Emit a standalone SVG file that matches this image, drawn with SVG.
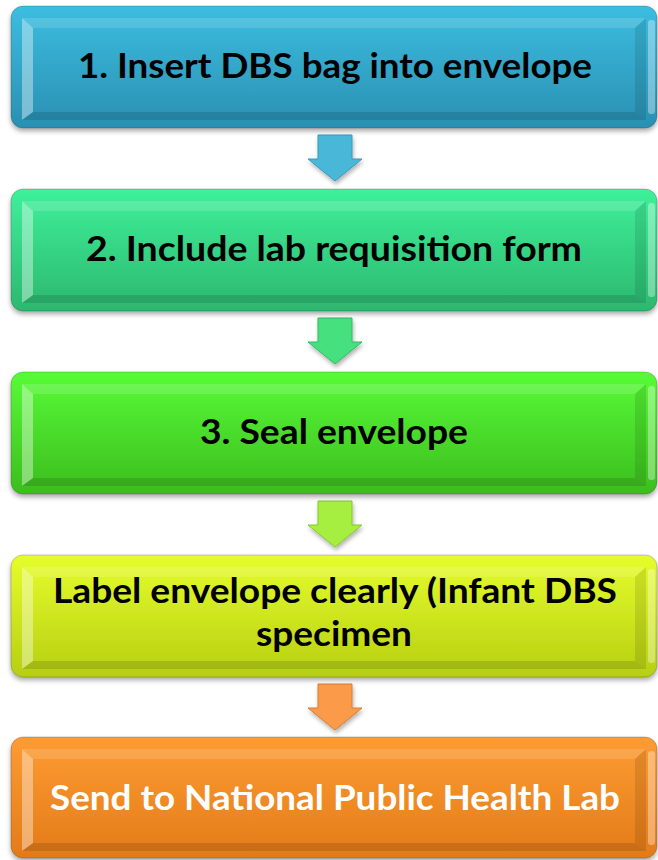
<svg xmlns="http://www.w3.org/2000/svg" width="658" height="860" viewBox="0 0 658 860">
  <style>
    .box { stroke: rgba(0,0,0,0.18); stroke-width: 1; filter: url(#shadow); }
    .bl { fill: rgba(255,255,255,0.38); }
    .bt { fill: rgba(255,255,255,0.14); }
    .br { fill: rgba(0,0,0,0.10); }
    .bb { fill: rgba(0,0,0,0.12); }
    .hl { fill: rgba(255,255,255,0.35); }
    .lbl { font-family: Lato, "Open Sans", "Liberation Sans", sans-serif; font-weight: bold; font-size: 34px; text-anchor: middle; fill: #000; }
    .white { fill: #fff; }
    .arrow { stroke-width: 1; filter: url(#ashadow); }
  </style>
  <defs>
    <filter id="shadow" x="-5%" y="-10%" width="110%" height="130%">
      <feDropShadow dx="0" dy="3" stdDeviation="2.5" flood-color="#000" flood-opacity="0.35"/>
    </filter>
    <filter id="ashadow" x="-30%" y="-30%" width="160%" height="170%">
      <feDropShadow dx="1" dy="3" stdDeviation="2" flood-color="#000" flood-opacity="0.3"/>
    </filter>
    <linearGradient id="g1" x1="0" y1="0" x2="0" y2="1">
      <stop offset="0" stop-color="#3cbde0"/>
      <stop offset="1" stop-color="#2a90b2"/>
    </linearGradient>
    <linearGradient id="g2" x1="0" y1="0" x2="0" y2="1">
      <stop offset="0" stop-color="#3ff09a"/>
      <stop offset="1" stop-color="#2cb86f"/>
    </linearGradient>
    <linearGradient id="g3" x1="0" y1="0" x2="0" y2="1">
      <stop offset="0" stop-color="#58fb38"/>
      <stop offset="1" stop-color="#3cbd1e"/>
    </linearGradient>
    <linearGradient id="g4" x1="0" y1="0" x2="0" y2="1">
      <stop offset="0" stop-color="#e6fd2c"/>
      <stop offset="1" stop-color="#b6cf12"/>
    </linearGradient>
    <linearGradient id="g5" x1="0" y1="0" x2="0" y2="1">
      <stop offset="0" stop-color="#fd9c33"/>
      <stop offset="1" stop-color="#e37b18"/>
    </linearGradient>
    <!-- bevel faces, drawn relative to the box top -->
    <g id="bevel">
      <polygon class="bt" points="22,12 646,12 635,22 33,22"/>
      <polygon class="bl" points="22,12 33,22 33,106 22,114"/>
      <polygon class="br" points="646,12 646,114 635,106 635,22"/>
      <polygon class="bb" points="22,114 33,106 635,106 646,114"/>
      <rect class="hl" x="648" y="14" width="7" height="94" rx="3"/>
    </g>
  </defs>

  <!-- connectors -->
  <g id="connectors">
    <path class="arrow" fill="#4ab8d8" stroke="#3a98b8" d="M318,135 H352 V159 H362 L335,181 L308,159 H318 Z"/>
    <path class="arrow" fill="#46e07f" stroke="#34b866" d="M318,318 H352 V342 H362 L335,364 L308,342 H318 Z"/>
    <path class="arrow" fill="#a6ee40" stroke="#86c82a" d="M318,501 H352 V525 H362 L335,547 L308,525 H318 Z"/>
    <path class="arrow" fill="#fb9a4a" stroke="#d97c30" d="M318,684 H352 V708 H362 L335,730 L308,708 H318 Z"/>
  </g>

  <g id="step1">
    <rect class="box" x="11" y="6" width="646" height="122" rx="12" fill="url(#g1)"/>
    <use href="#bevel" y="6"/>
    <text class="lbl" x="335" y="78" textLength="514" lengthAdjust="spacingAndGlyphs">1. Insert DBS bag into envelope</text>
  </g>

  <g id="step2">
    <rect class="box" x="11" y="189" width="646" height="122" rx="12" fill="url(#g2)"/>
    <use href="#bevel" y="189"/>
    <text class="lbl" x="334" y="261" textLength="496" lengthAdjust="spacingAndGlyphs">2. Include lab requisition form</text>
  </g>

  <g id="step3">
    <rect class="box" x="11" y="372" width="646" height="122" rx="12" fill="url(#g3)"/>
    <use href="#bevel" y="372"/>
    <text class="lbl" x="334" y="444" textLength="268" lengthAdjust="spacingAndGlyphs">3. Seal envelope</text>
  </g>

  <g id="step4">
    <rect class="box" x="11" y="555" width="646" height="122" rx="12" fill="url(#g4)"/>
    <use href="#bevel" y="555"/>
    <text class="lbl" x="335" y="603" textLength="564" lengthAdjust="spacingAndGlyphs">Label envelope clearly (Infant DBS</text>
    <text class="lbl" x="334" y="646" textLength="156" lengthAdjust="spacingAndGlyphs">specimen</text>
  </g>

  <g id="step5">
    <rect class="box" x="11" y="737" width="646" height="121" rx="12" fill="url(#g5)"/>
    <use href="#bevel" y="737"/>
    <text class="lbl white" x="335" y="810" textLength="570" lengthAdjust="spacingAndGlyphs">Send to National Public Health Lab</text>
  </g>
</svg>
